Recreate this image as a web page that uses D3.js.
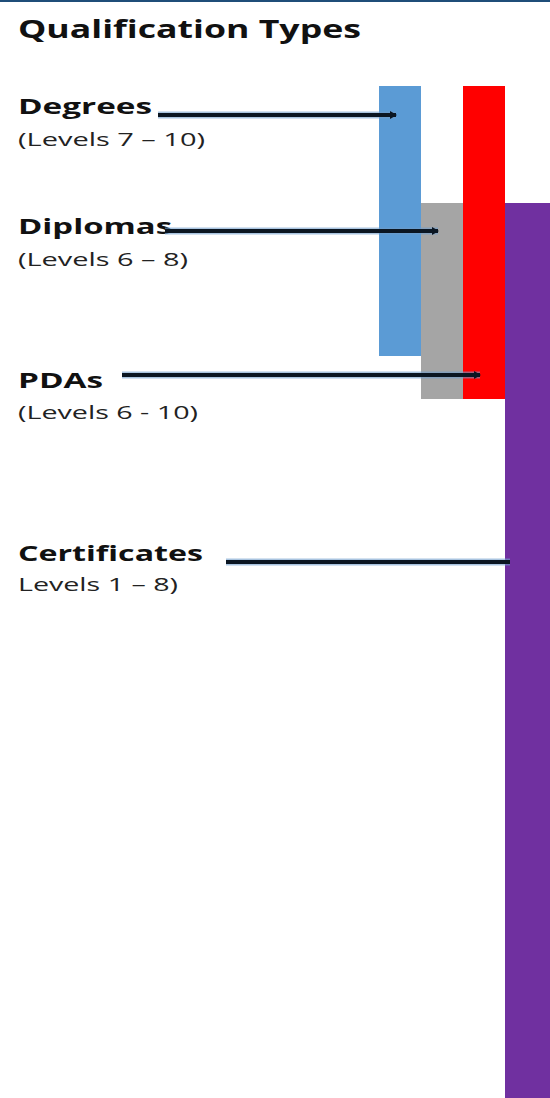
<!DOCTYPE html>
<html>
<head>
<meta charset="utf-8">
<script src="https://cdn.jsdelivr.net/npm/d3@7"></script>
<style>
  body { margin: 0; background: #fff; }
  svg { display: block; }
</style>
</head>
<body>
<script>
// qualification types and the SCQF level range each covers
const qualifications = ["Degrees", "Diplomas", "PDAs", "Certificates"];
const levelLow = [7, 6, 6, 1];
const levelHigh = [10, 8, 10, 8];
const rangeLabels = ["(Levels 7 \u2013 10)", "(Levels 6 \u2013 8)", "(Levels 6 - 10)", "Levels 1 \u2013 8)"];
const barColors = ["#5b9bd5", "#a5a5a5", "#ff0000", "#7030a0"];

window.onload = draw();

function draw(){
    let width = 550;
    let height = 1098;

    let svg = d3.select("body")
        .append("svg")
        .attr("width", width)
        .attr("height", height);

    // the picture is a schematic, level bands are not equal height
    let y = d3.scaleLinear()
        .domain([10, 8, 6, 5, 0])
        .range([86, 203, 356, 399, 1098]);

    let x = d3.scaleBand()
        .domain(qualifications)
        .range([379, 547]);

    let lastQual = qualifications[qualifications.length - 1];

    // top rule
    svg.append("rect")
        .attr("x", 0).attr("y", 0)
        .attr("width", width).attr("height", 2)
        .attr("fill", "#1f4e79");

    // title
    svg.append("text")
        .attr("x", 18).attr("y", 38)
        .attr("font-family", "Open Sans")
        .attr("font-weight", "bold")
        .attr("font-size", 25)
        .attr("textLength", 343)
        .attr("lengthAdjust", "spacingAndGlyphs")
        .attr("fill", "#111")
        .text("Qualification Types");

    let rows = qualifications.map((q, i) => ({
        name: q, low: levelLow[i], high: levelHigh[i],
        sub: rangeLabels[i], color: barColors[i]
    }));

    // bars (the last one runs off the right edge of the frame)
    svg.selectAll(".bar")
        .data(rows)
        .enter()
        .append("rect")
        .attr("class", "bar")
        .attr("x", d => x(d.name))
        .attr("y", d => y(d.high))
        .attr("width", d => d.name == lastQual ? width - x(d.name) : x.bandwidth())
        .attr("height", d => y(d.low - 1) - y(d.high))
        .attr("fill", d => d.color);

    // label placement (annotation layout)
    let labelY = [114, 234, 388, 561];
    let subY = [146, 266, 419, 591];
    let nameW = [134, 154, 85, 185];
    let subW = [187, 170, 180, 160];
    let lineY = [115, 231, 375, 562];
    let lineX0 = [158, 165, 122, 226];

    let labels = svg.selectAll(".label")
        .data(rows)
        .enter()
        .append("g")
        .attr("class", "label");

    labels.append("text")
        .attr("x", 18)
        .attr("y", (d, i) => labelY[i])
        .attr("font-family", "Open Sans")
        .attr("font-weight", "bold")
        .attr("font-size", 21)
        .attr("textLength", (d, i) => nameW[i])
        .attr("lengthAdjust", "spacingAndGlyphs")
        .attr("fill", "#111")
        .text(d => d.name);

    labels.append("text")
        .attr("x", 18)
        .attr("y", (d, i) => subY[i])
        .attr("font-family", "Open Sans")
        .attr("font-size", 18)
        .attr("textLength", (d, i) => subW[i])
        .attr("lengthAdjust", "spacingAndGlyphs")
        .attr("fill", "#222")
        .text(d => d.sub);

    // leader lines: end near the middle of each bar, certificates at its edge
    let lineEnd = (d, i) => d.name == lastQual ? x(d.name) + 5 : x(d.name) + x.bandwidth() / 2 - 4;

    labels.append("line")
        .attr("x1", (d, i) => lineX0[i])
        .attr("x2", lineEnd)
        .attr("y1", (d, i) => lineY[i])
        .attr("y2", (d, i) => lineY[i])
        .attr("stroke", "#6f9ccc")
        .attr("stroke-opacity", 0.6)
        .attr("stroke-width", 7);

    labels.append("line")
        .attr("x1", (d, i) => lineX0[i])
        .attr("x2", lineEnd)
        .attr("y1", (d, i) => lineY[i])
        .attr("y2", (d, i) => lineY[i])
        .attr("stroke", "#0b1622")
        .attr("stroke-width", 4);

    // small arrow tips
    labels.filter(d => d.name != lastQual)
        .append("path")
        .attr("d", (d, i) => {
            let ex = lineEnd(d, i), ey = lineY[i];
            return `M${ex - 6},${ey - 4}L${ex + 1},${ey}L${ex - 6},${ey + 4}Z`;
        })
        .attr("fill", "#0b1622");
};
</script>
</body>
</html>
